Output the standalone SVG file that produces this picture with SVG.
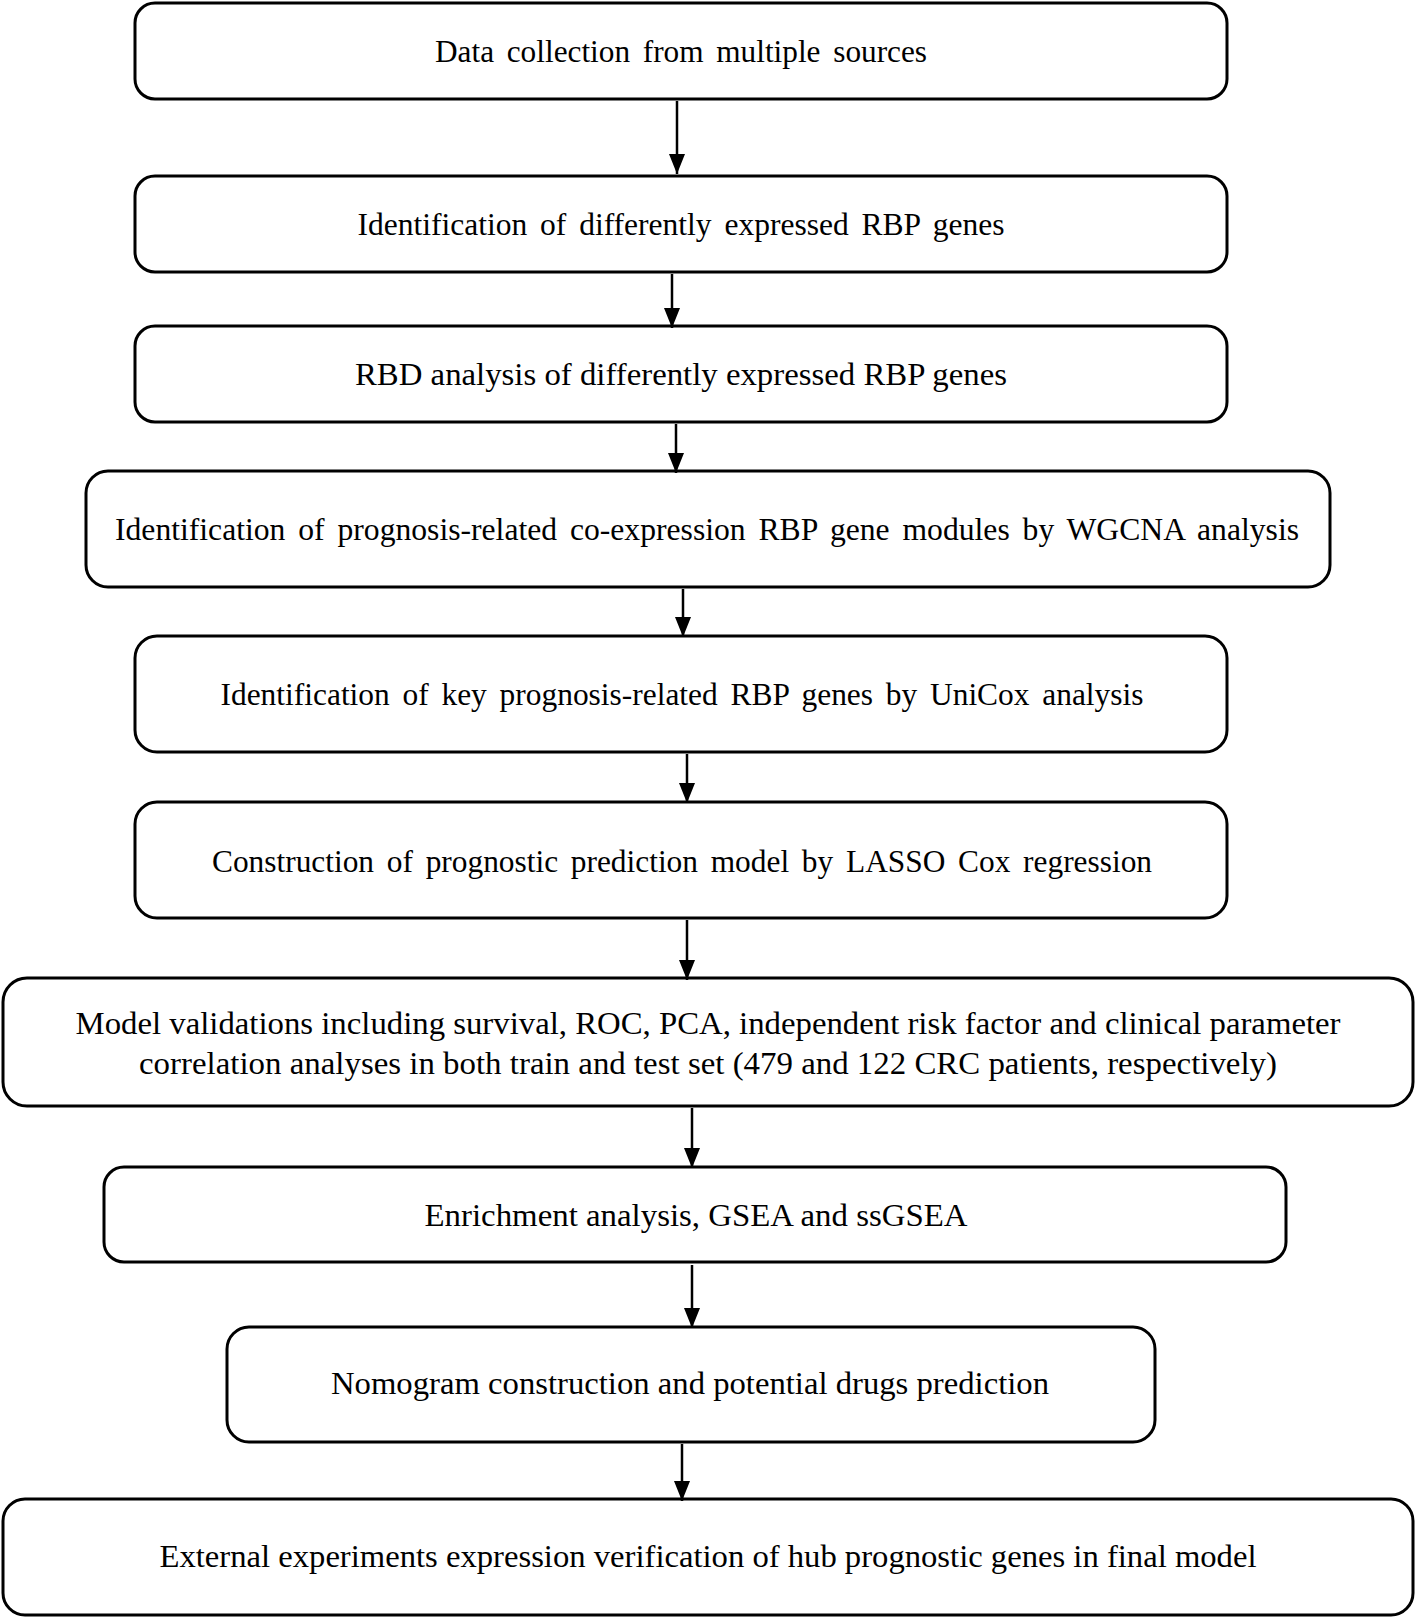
<svg xmlns="http://www.w3.org/2000/svg" width="1416" height="1619" viewBox="0 0 1416 1619">
<style>
.box{fill:#fff;stroke:#000;stroke-width:3}
.t{font-family:"Liberation Serif","Times New Roman",serif;font-size:32px;fill:#000;text-anchor:middle}
.w{word-spacing:5px}
.c{stroke:#000;stroke-width:2.5;fill:none}
</style>
<defs>
<marker id="ah" markerUnits="userSpaceOnUse" markerWidth="20" markerHeight="16" refX="20" refY="8" orient="auto" viewBox="0 0 20 16">
<path d="M0,0 L20,8 L0,16 Z" fill="#000"/>
</marker>
</defs>
<rect width="1416" height="1619" fill="#fff"/>
<g id="n1"><rect class="box" x="135" y="3" width="1092" height="96" rx="20"/><text class="t w" x="681" y="62" textLength="492" lengthAdjust="spacingAndGlyphs">Data collection from multiple sources</text></g>
<g id="n2"><rect class="box" x="135" y="176" width="1092" height="96" rx="20"/><text class="t w" x="681" y="235" textLength="647" lengthAdjust="spacingAndGlyphs">Identification of differently expressed RBP genes</text></g>
<g id="n3"><rect class="box" x="135" y="326" width="1092" height="96" rx="20"/><text class="t" x="681" y="385" textLength="652" lengthAdjust="spacingAndGlyphs">RBD analysis of differently expressed RBP genes</text></g>
<g id="n4"><rect class="box" x="86" y="471" width="1244" height="116" rx="22"/><text class="t w" x="707" y="540" textLength="1184" lengthAdjust="spacingAndGlyphs">Identification of prognosis-related co-expression RBP gene modules by WGCNA analysis</text></g>
<g id="n5"><rect class="box" x="135" y="636" width="1092" height="116" rx="22"/><text class="t w" x="682" y="705" textLength="923" lengthAdjust="spacingAndGlyphs">Identification of key prognosis-related RBP genes by UniCox analysis</text></g>
<g id="n6"><rect class="box" x="135" y="802" width="1092" height="116" rx="22"/><text class="t w" x="682" y="872" textLength="940" lengthAdjust="spacingAndGlyphs">Construction of prognostic prediction model by LASSO Cox regression</text></g>
<g id="n7"><rect class="box" x="3" y="978" width="1410" height="128" rx="24"/><text class="t" x="708" y="1034" textLength="1265" lengthAdjust="spacingAndGlyphs">Model validations including survival, ROC, PCA, independent risk factor and clinical parameter</text><text class="t" x="708" y="1074" textLength="1138" lengthAdjust="spacingAndGlyphs">correlation analyses in both train and test set (479 and 122 CRC  patients, respectively)</text></g>
<g id="n8"><rect class="box" x="104" y="1167" width="1182" height="95" rx="20"/><text class="t" x="696" y="1226" textLength="543" lengthAdjust="spacingAndGlyphs">Enrichment analysis, GSEA and ssGSEA</text></g>
<g id="n9"><rect class="box" x="227" y="1327" width="928" height="115" rx="22"/><text class="t" x="690" y="1394" textLength="718" lengthAdjust="spacingAndGlyphs">Nomogram construction and potential drugs prediction</text></g>
<g id="n10"><rect class="box" x="3" y="1499" width="1410" height="116" rx="22"/><text class="t" x="708" y="1567" textLength="1097" lengthAdjust="spacingAndGlyphs">External experiments expression verification of hub prognostic genes in final model</text></g>
<g id="connectors">
<line class="c" x1="677" y1="101" x2="677" y2="174" marker-end="url(#ah)"/>
<line class="c" x1="672" y1="274" x2="672" y2="328" marker-end="url(#ah)"/>
<line class="c" x1="676" y1="424" x2="676" y2="473" marker-end="url(#ah)"/>
<line class="c" x1="683" y1="589" x2="683" y2="637" marker-end="url(#ah)"/>
<line class="c" x1="687" y1="754" x2="687" y2="803" marker-end="url(#ah)"/>
<line class="c" x1="687" y1="920" x2="687" y2="980" marker-end="url(#ah)"/>
<line class="c" x1="692" y1="1108" x2="692" y2="1168" marker-end="url(#ah)"/>
<line class="c" x1="692" y1="1265" x2="692" y2="1328" marker-end="url(#ah)"/>
<line class="c" x1="682" y1="1444" x2="682" y2="1501" marker-end="url(#ah)"/>
</g>
</svg>
